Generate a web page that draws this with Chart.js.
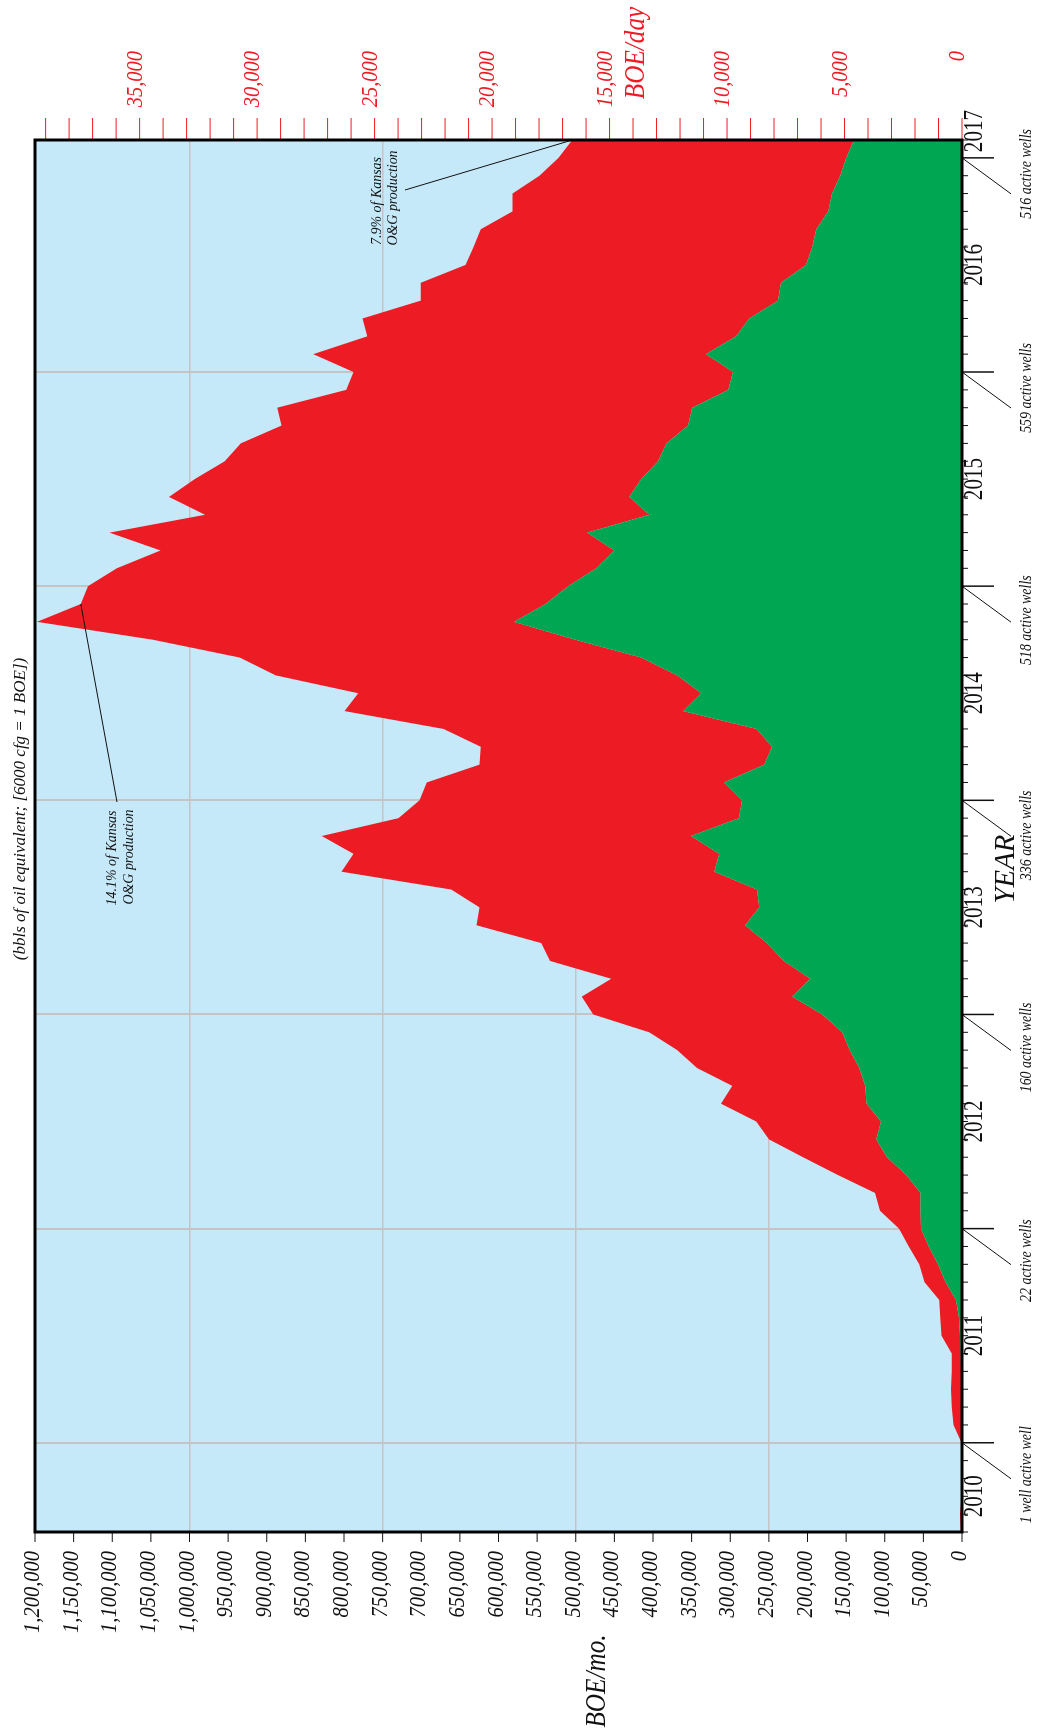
<!DOCTYPE html>
<html>
<head>
<meta charset="utf-8">
<title>Monthly production, BOE</title>
<script src="https://cdn.jsdelivr.net/npm/chart.js@4.4.1/dist/chart.umd.min.js"></script>
<style>
  html, body { margin: 0; padding: 0; background: #fff; overflow: hidden; }
  body { width: 1042px; height: 1735px; position: relative; }
  /* the chart is laid out landscape and turned a quarter turn to read upward */
  #wrap {
    position: absolute; left: 0; top: 0;
    width: 1735px; height: 1042px;
    transform-origin: 0 0;
    transform: translateY(1735px) rotate(-90deg);
  }
</style>
</head>
<body>
<div id="wrap"><canvas id="prod" width="1735" height="1042"></canvas></div>
<script>
// Monthly production, Aug 2010 - Feb 2017
const months = [
  '2010-08','2010-09','2010-10','2010-11','2010-12',
  '2011-01','2011-02','2011-03','2011-04','2011-05','2011-06','2011-07','2011-08','2011-09','2011-10','2011-11','2011-12',
  '2012-01','2012-02','2012-03','2012-04','2012-05','2012-06','2012-07','2012-08','2012-09','2012-10','2012-11','2012-12',
  '2013-01','2013-02','2013-03','2013-04','2013-05','2013-06','2013-07','2013-08','2013-09','2013-10','2013-11','2013-12',
  '2014-01','2014-02','2014-03','2014-04','2014-05','2014-06','2014-07','2014-08','2014-09','2014-10','2014-11','2014-12',
  '2015-01','2015-02','2015-03','2015-04','2015-05','2015-06','2015-07','2015-08','2015-09','2015-10','2015-11','2015-12',
  '2016-01','2016-02','2016-03','2016-04','2016-05','2016-06','2016-07','2016-08','2016-09','2016-10','2016-11','2016-12',
  '2017-01','2017-02'
];

// oil, BOE/mo.
const oil = [
  0, 0, 0, 0, 0,
  200, 500, 800, 1000, 1200, 1700, 2500, 4000, 7900, 21500, 31200, 43000,
  53000, 53700, 53700, 72300, 97000, 111000, 104800, 123700, 125200, 132900, 145300, 155000,
  180900, 219700, 196400, 230600, 252300, 281000, 262400, 265500, 320600, 314400, 350900, 288700,
  284800, 308000, 256000, 246000, 266000, 361000, 337700, 368700, 415200, 500500, 580000, 539300,
  509800, 473400, 450100, 485000, 405000, 430700, 415200, 393500, 382600, 354700, 349200, 302600,
  296400, 331400, 292600, 275500, 238300, 234400, 201800, 194000, 188600, 173000, 168400, 157500,
  149800, 139700
];

// gas, BOE/mo. (6000 cfg = 1 BOE)
const gas = [
  1500, 2500, 800, 500, 300,
  300, 10500, 12500, 13100, 12100, 11600, 24000, 24000, 21700, 27000, 24100, 26000,
  28600, 52300, 59000, 88300, 108800, 138900, 161400, 188300, 172100, 210200, 223400, 250000,
  296600, 272500, 257700, 302600, 292500, 347600, 362300, 395700, 482600, 473300, 477900, 440700,
  417500, 385000, 368700, 377100, 405200, 438300, 443700, 519800, 519800, 547100, 617400, 601400,
  621600, 620800, 587500, 618500, 575000, 595900, 578100, 561000, 550900, 526100, 537100, 494400,
  491300, 508300, 477300, 500600, 462500, 466400, 440800, 438500, 434500, 409000, 413600, 389500,
  372400, 364700
];

const boeMonthTicks = [
  0, 50000, 100000, 150000, 200000, 250000, 300000, 350000, 400000, 450000,
  500000, 550000, 600000, 650000, 700000, 750000, 800000, 850000, 900000,
  950000, 1000000, 1050000, 1100000, 1150000, 1200000
];
const boeGrid = [250000, 500000, 750000, 1000000];
const boeDayTicks = [0, 5000, 10000, 15000, 20000, 25000, 30000, 35000];

const yearLabels = ['2010', '2011', '2012', '2013', '2014', '2015', '2016', '2017'];
const yearLabelAt = [2010.75, 2011.5, 2012.5, 2013.5, 2014.5, 2015.5, 2016.5, 2017.125];
const yearGrid = [2011, 2012, 2013, 2014, 2015, 2016];

// active wells at each year boundary
const wellYears = [2011, 2012, 2013, 2014, 2015, 2016, 2017];
const wellLabels = ['1 well active well', '22 active wells', '160 active wells', '336 active wells',
                    '518 active wells', '559 active wells', '516 active wells'];
const wellShift = [32, 32, 33, 35, 34, 16, 16];

const DAYS_PER_MONTH = 365 / 12;
const X_MIN = 2010 + 7 / 12;
const X_MAX = 2017 + 1 / 12;

const SKY = '#c6e9fa';
const RED = '#ed1c24';
const GREEN = '#00a651';
const INK = '#111';
const SERIF = '"Liberation Serif", "Times New Roman", "DejaVu Serif", serif';

const toYear = s => {
  const [yr, mo] = s.split('-').map(Number);
  return yr + (mo - 1) / 12;
};
const xVals = months.map(toYear);

function text(ctx, str, x, y, font, color, align, squeeze) {
  ctx.save();
  ctx.font = font;
  ctx.fillStyle = color;
  ctx.textAlign = align;
  ctx.textBaseline = 'middle';
  ctx.translate(x, y);
  ctx.scale(squeeze, 1);
  ctx.fillText(str, 0, 0);
  ctx.restore();
}

function seg(ctx, x1, y1, x2, y2) {
  ctx.beginPath();
  ctx.moveTo(x1, y1);
  ctx.lineTo(x2, y2);
  ctx.stroke();
}

const decorations = {
  id: 'decorations',
  beforeDraw(chart) {
    const { ctx, chartArea: a } = chart;
    ctx.save();
    ctx.fillStyle = SKY;
    ctx.fillRect(a.left, a.top, a.right - a.left, a.bottom - a.top);
    ctx.restore();
  },
  afterDraw(chart) {
    const { ctx, chartArea: a, scales: { x, y, y2 } } = chart;
    ctx.save();

    // BOE/mo. ticks and labels
    ctx.strokeStyle = INK;
    ctx.lineWidth = 1;
    boeMonthTicks.forEach(v => {
      const py = y.getPixelForValue(v);
      seg(ctx, a.left - 10, py, a.left, py);
      text(ctx, v.toLocaleString('en-US'), a.left - 19, py - 2,
           'italic 23px ' + SERIF, INK, 'right', 0.89);
    });
    text(ctx, 'BOE/mo.', 54, 597, 'italic 29px ' + SERIF, INK, 'center', 0.87);

    // BOE/day ticks every 1000, labelled every 5000
    ctx.strokeStyle = RED;
    for (let d = 0; d <= y2.max; d += 1000) {
      const py = y2.getPixelForValue(d);
      seg(ctx, a.right, py, a.right + 22, py);
    }
    boeDayTicks.forEach(v => {
      const py = y2.getPixelForValue(v);
      text(ctx, v.toLocaleString('en-US'), 1684, py - 4,
           'italic 23px ' + SERIF, RED, 'right', 0.89);
    });
    text(ctx, 'BOE/day', 1682, 636, 'italic 29px ' + SERIF, RED, 'center', 0.87);

    // monthly ticks along the time axis, long ticks at year boundaries
    ctx.strokeStyle = INK;
    for (let k = 0; k <= 78; k++) {
      const m = Math.round(X_MIN * 12) + k;
      const px = x.getPixelForValue(m / 12);
      ctx.lineWidth = m % 12 === 0 ? 1.5 : 1;
      seg(ctx, px, a.bottom, px, a.bottom + (m % 12 === 0 ? 32 : 6));
    }
    yearLabels.forEach((t, i) => {
      text(ctx, t, x.getPixelForValue(yearLabelAt[i]), 975, '27px ' + SERIF, INK, 'center', 0.78);
    });

    // active well counts
    ctx.lineWidth = 1;
    wellYears.forEach((yr, i) => {
      const px = x.getPixelForValue(yr);
      seg(ctx, px, a.bottom, px - 36, a.bottom + 49);
      text(ctx, wellLabels[i], px - wellShift[i], 1027, 'italic 16px ' + SERIF, INK, 'center', 0.87);
    });
    text(ctx, 'YEAR', 866, 1006, 'italic 30px ' + SERIF, INK, 'center', 0.96);

    // share of statewide production at the peak and at the last month
    const stackTop = i => y.getPixelForValue(oil[i] + gas[i]);
    const peak = months.indexOf('2014-12');
    const last = months.length - 1;
    seg(ctx, 933, 117, x.getPixelForValue(xVals[peak]), stackTop(peak));
    text(ctx, '14.1% of Kansas', 877, 112, 'italic 15px ' + SERIF, INK, 'center', 0.93);
    text(ctx, 'O&G production', 878, 129, 'italic 15px ' + SERIF, INK, 'center', 0.93);
    seg(ctx, 1545, 405, x.getPixelForValue(xVals[last]), stackTop(last));
    text(ctx, '7.9% of Kansas', 1534, 377, 'italic 15px ' + SERIF, INK, 'center', 0.93);
    text(ctx, 'O&G production', 1537, 393, 'italic 15px ' + SERIF, INK, 'center', 0.93);

    text(ctx, '(bbls of oil equivalent; [6000 cfg = 1 BOE])', 926, 21,
         'italic 17px ' + SERIF, INK, 'center', 1);

    // plot frame
    ctx.strokeStyle = '#000';
    ctx.lineWidth = 3;
    ctx.strokeRect(a.left, a.top, a.right - a.left, a.bottom - a.top);
    ctx.restore();
  }
};

new Chart(document.getElementById('prod').getContext('2d'), {
  type: 'line',
  data: {
    datasets: [
      {
        label: 'Oil',
        data: xVals.map((v, i) => ({ x: v, y: oil[i] })),
        backgroundColor: GREEN,
        fill: 'origin',
        borderWidth: 0,
        pointRadius: 0,
        tension: 0
      },
      {
        label: 'Gas',
        data: xVals.map((v, i) => ({ x: v, y: gas[i] })),
        backgroundColor: RED,
        fill: '-1',
        borderWidth: 0,
        pointRadius: 0,
        tension: 0
      }
    ]
  },
  options: {
    responsive: false,
    animation: false,
    devicePixelRatio: 1,
    layout: { padding: { top: 35, left: 0, right: 0, bottom: 0 } },
    plugins: {
      legend: { display: false },
      tooltip: { enabled: false }
    },
    scales: {
      x: {
        type: 'linear',
        min: X_MIN,
        max: X_MAX,
        afterBuildTicks: s => { s.ticks = yearGrid.map(v => ({ value: v })); },
        afterFit: s => { s.height = 80; },
        ticks: { display: false },
        grid: { color: '#c4c4c4', lineWidth: 2, drawTicks: false },
        border: { display: false }
      },
      y: {
        stacked: true,
        min: 0,
        max: 1200000,
        afterBuildTicks: s => { s.ticks = boeGrid.map(v => ({ value: v })); },
        afterFit: s => { s.width = 203; },
        ticks: { display: false },
        grid: { color: '#c4c4c4', lineWidth: 1.5, drawTicks: false },
        border: { display: false }
      },
      y2: {
        position: 'right',
        min: 0,
        max: 1200000 / DAYS_PER_MONTH,
        afterFit: s => { s.width = 140; },
        ticks: { display: false },
        grid: { display: false, drawTicks: false },
        border: { display: false }
      }
    }
  },
  plugins: [decorations]
});
</script>
</body>
</html>
